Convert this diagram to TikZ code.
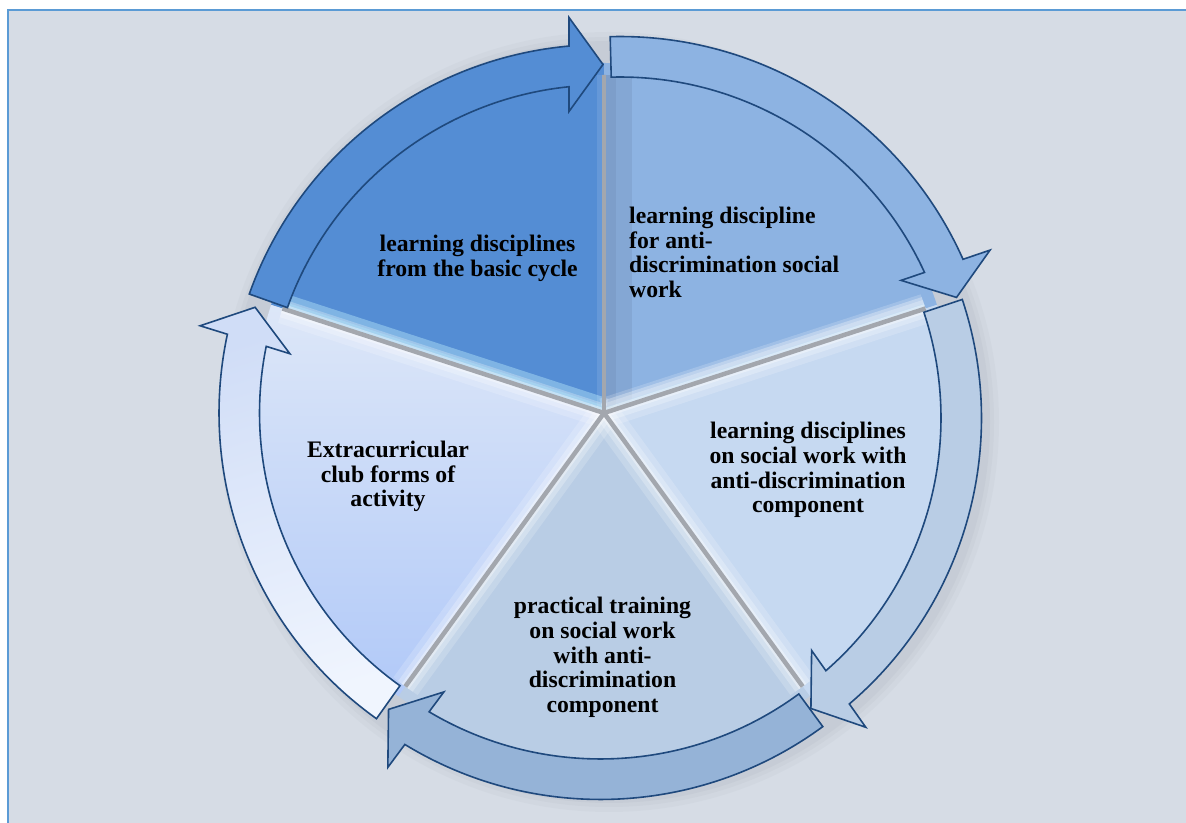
\documentclass[tikz,border=0pt]{standalone}
\usepackage{fontspec}
\setmainfont{Liberation Serif}
\definecolor{bgc}{HTML}{D6DCE5}
\definecolor{framec}{HTML}{5B9BD5}
\definecolor{edgec}{HTML}{1F497D}
\definecolor{sOne}{HTML}{548DD4}
\definecolor{sTwo}{HTML}{8DB3E2}
\definecolor{sThree}{HTML}{C6D9F1}
\definecolor{sFour}{HTML}{B9CDE5}
\definecolor{aTwo}{HTML}{8DB3E2}
\definecolor{aThree}{HTML}{B9CDE5}
\definecolor{aFour}{HTML}{95B3D7}
\definecolor{sFiveTop}{HTML}{DDE7F8}
\definecolor{sFiveBot}{HTML}{B1C9F8}
\definecolor{aFiveTop}{HTML}{F0F5FE}
\definecolor{aFiveBot}{HTML}{D0DDF7}
\definecolor{gapc}{HTML}{A3A7AE}
\definecolor{glowc}{HTML}{7FD0F5}
\definecolor{darkband}{HTML}{6A86AE}
\definecolor{shadowc}{HTML}{7F8896}
% #1 cx, #2 cy (image coords), #3 tail angle, #4 tip angle, #5 fill options
\newcommand{\ringarrow}[5]{%
  \begin{scope}[shift={(#1,{822-#2})}, rotate=#4]
    \pgfmathsetmacro{\tailrel}{#3-(#4)}
    \path[arrowshape, #5] (\tailrel:375.5)
      arc[start angle=\tailrel, end angle=5.195, radius=375.5pt]
      -- (402.5,34) -- (355.5,0) -- (308.5,34) -- (5.825:335)
      arc[start angle=5.825, end angle=\tailrel, radius=335pt] -- cycle;
  \end{scope}}
\begin{document}
\begin{tikzpicture}[x=1pt,y=1pt,line join=miter,
  arrowshape/.style={draw=edgec, line width=1.6pt},
  txt/.style={font=\fontsize{23.7pt}{24.7pt}\selectfont\bfseries, inner sep=0pt, text=black}]
\useasboundingbox (0,0) rectangle (1186,822);
\clip (0,0) rectangle (1186,822);
\fill[white] (0,0) rectangle (1186,822);
\draw[fill=bgc, draw=framec, line width=2pt] (7.5,811.5) rectangle (1200,-10);

\coordinate (P) at (604,409);

% soft shadow of the ring
\foreach \w/\o in {64/0.05,54/0.06,46/0.07} {
  \draw[shadowc, opacity=\o, line width=\w pt] (609,400) circle[radius=358pt];
}

% sectors
\fill[sOne] (P) -- ++(90:350) arc[start angle=90,end angle=162,radius=350pt] -- cycle;
\fill[sTwo] (P) -- ++(18:350) arc[start angle=18,end angle=90,radius=350pt] -- cycle;
\fill[sThree] (P) -- ++(-54:350) arc[start angle=-54,end angle=18,radius=350pt] -- cycle;
\fill[sFour] (P) -- ++(-126:350) arc[start angle=-126,end angle=-54,radius=350pt] -- cycle;
\shade[top color=sFiveTop, bottom color=sFiveBot] (P) -- ++(162:350) arc[start angle=162,end angle=234,radius=350pt] -- cycle;

\begin{scope}
  \clip (P) circle[radius=338pt];
  % glow inside sector 1
  \begin{scope}
    \clip (P) -- ++(90:350) arc[start angle=90,end angle=162,radius=350pt] -- cycle;
    \draw[glowc, opacity=0.35, line width=30pt] (P) -- ++(162:345);
    \draw[glowc, opacity=0.45, line width=14pt] (P) -- ++(162:345);
    \draw[white, opacity=0.10, line width=14pt] (P) -- ++(90:345);
  \end{scope}
  % dark band and glow in sector 2
  \begin{scope}
    \clip (P) -- ++(18:350) arc[start angle=18,end angle=90,radius=350pt] -- cycle;
    \draw[darkband, opacity=0.25, line width=56pt] (P) -- ++(90:345);
    \draw[darkband, opacity=0.25, line width=24pt] (P) -- ++(90:345);
    \draw[white, opacity=0.30, line width=24pt] (P) -- ++(18:345);
    \draw[glowc, opacity=0.25, line width=10pt] (P) -- ++(18:345);
  \end{scope}
  % glows along the other gaps
  \foreach \a in {18,-54,-126,162} {
    \draw[white, opacity=0.18, line width=30pt] (P) -- ++(\a:345);
    \draw[white, opacity=0.25, line width=18pt] (P) -- ++(\a:345);
    \draw[white, opacity=0.35, line width=9pt] (P) -- ++(\a:345);
  }
  % gaps between sectors
  \foreach \a in {90,18,-54,-126,162} {
    \draw[gapc, line width=4.5pt] (P) -- ++(\a:345);
  }
\end{scope}

% circular arrows
\ringarrow{603}{420}{160.4}{90}{fill=sOne}
\ringarrow{620}{412}{91.5}{18.8}{fill=aTwo}
\ringarrow{606}{418}{18.4}{-54.8}{fill=aThree}
\ringarrow{600.5}{424}{-53.7}{-126.6}{fill=aFour}
\ringarrow{594.5}{413}{-125.5}{-197.3}{top color=aFiveTop, bottom color=aFiveBot, shading angle=197.3}

% labels
\node[txt, align=center, anchor=north] (t1) at (477.5,587.3) {learning disciplines\\from the basic cycle};
\node[txt, align=left, anchor=north west] (t2) at (629,615.3) {learning discipline\\for anti-\\discrimination social\\work};
\node[txt, align=center, anchor=north] (t3) at (808,400) {learning disciplines\\on social work with\\anti-discrimination\\component};
\node[txt, align=center, anchor=north] (t4) at (602.5,225) {practical training\\on social work\\with anti-\\discrimination\\component};
\node[txt, align=center, anchor=north] (t5) at (388,381.3) {Extracurricular\\club forms of\\activity};
\end{tikzpicture}
\end{document}
